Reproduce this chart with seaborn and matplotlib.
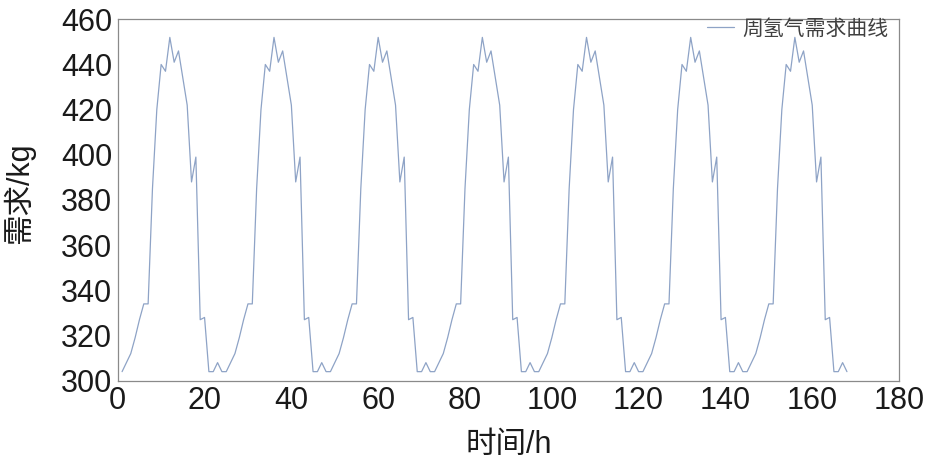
import numpy as np
import pandas as pd
import matplotlib
matplotlib.use("Agg")
import matplotlib.pyplot as plt
import seaborn as sns

# hourly hydrogen demand for one day (kg); the week repeats it 7 times
day_profile = [304, 308, 312, 319, 327, 334, 334, 385, 420, 440, 437, 452,
               441, 446, 434, 422, 388, 399, 327, 328, 304, 304, 308, 304]
n_days = 7
hours = np.arange(1, 24 * n_days + 1)
demand = np.tile(day_profile, n_days)

x_ticks = list(range(0, 181, 20))
y_ticks = list(range(300, 461, 20))

df = pd.DataFrame({"hour": hours, "demand": demand})

sns.set_theme(style="white")
plt.rcParams["font.family"] = ["Liberation Sans", "Noto Sans CJK SC"]

fig = plt.figure(figsize=(9.3, 4.62), dpi=100)
ax = fig.add_axes([0.1266, 0.176, 0.8401, 0.7822])

sns.lineplot(data=df, x="hour", y="demand", ax=ax, color="#8ea3c6",
             linewidth=0.9, label="周氢气需求曲线")

ax.set_xlim(0, 180)
ax.set_ylim(300, 460)
ax.set_xticks(x_ticks)
ax.set_yticks(y_ticks)
ax.tick_params(axis="both", direction="in", length=4, width=0.8, color="#b0b0b0",
               labelsize=22, labelcolor="#1a1a1a", pad=4)
for s in ax.spines.values():
    s.set_color("#8a8a8a")
    s.set_linewidth(0.9)

ax.set_xlabel("时间/h", fontsize=22, color="#1a1a1a", labelpad=10)
ax.set_ylabel("需求/kg", fontsize=22, color="#1a1a1a")
ax.yaxis.set_label_coords(-0.106, 0.52)

leg = ax.legend(loc="upper right", frameon=False, fontsize=15, handlelength=1.3,
                handletextpad=0.4, borderaxespad=0.1, bbox_to_anchor=(1.0, 1.03))
for t in leg.get_texts():
    t.set_color("#404040")

fig.savefig("out.png", dpi=100)
